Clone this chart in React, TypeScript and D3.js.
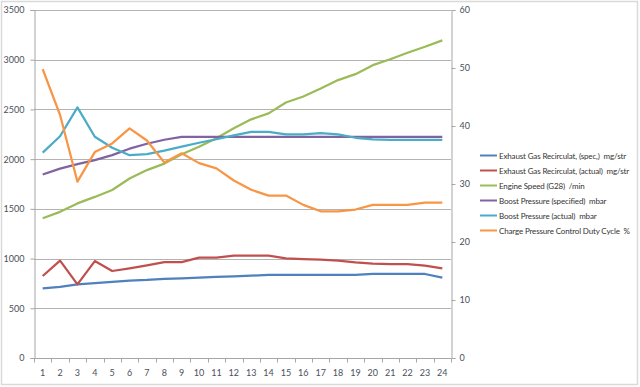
import { useRef, useEffect } from 'react';
import * as d3 from 'd3';

const categories = d3.range(1, 25).map(String);

const egrSpec = [700, 715, 740, 752, 765, 778, 785, 797, 802, 808, 815, 822, 828, 835, 835, 835, 835, 835, 835, 845, 845, 845, 845, 808];
const egrActual = [825, 979, 741, 975, 875, 902, 932, 965, 965, 1009, 1009, 1029, 1029, 1029, 1002, 995, 989, 979, 962, 949, 945, 945, 929, 902];
const engineSpeed = [1405, 1470, 1555, 1620, 1690, 1805, 1890, 1955, 2050, 2125, 2210, 2310, 2400, 2460, 2570, 2630, 2710, 2795, 2855, 2945, 3005, 3070, 3130, 3195];
const boostSpec = [1845, 1905, 1950, 1990, 2040, 2105, 2155, 2195, 2225, 2225, 2225, 2225, 2225, 2225, 2225, 2225, 2225, 2225, 2225, 2225, 2225, 2225, 2225, 2225];
const boostActual = [2065, 2230, 2520, 2225, 2115, 2040, 2050, 2085, 2125, 2165, 2200, 2240, 2275, 2275, 2250, 2250, 2262, 2250, 2215, 2200, 2195, 2195, 2195, 2195];
const dutyCycle = [49.8, 41.9, 30.4, 35.5, 37.0, 39.6, 37.5, 33.7, 35.3, 33.6, 32.7, 30.6, 29.0, 28.0, 28.0, 26.4, 25.3, 25.3, 25.6, 26.4, 26.4, 26.4, 26.8, 26.8];

const leftTicks = [0, 500, 1000, 1500, 2000, 2500, 3000, 3500];
const rightTicks = [0, 10, 20, 30, 40, 50, 60];

const seriesNames = [
  'Exhaust Gas Recirculat, (spec,)  mg/str',
  'Exhaust Gas Recirculat, (actual)  mg/str',
  'Engine Speed (G28)  /min',
  'Boost Pressure (specified)  mbar',
  'Boost Pressure (actual)  mbar',
  'Charge Pressure Control Duty Cycle  %',
];
const seriesColors = ['#4F81BD', '#C0504D', '#9BBB59', '#8064A2', '#4BACC6', '#F79646'];

const W = 640;
const H = 387;
const margin = { top: 10, right: 189, bottom: 29, left: 34 };

export default function App() {
  const svgRef = useRef<SVGSVGElement>(null);

  useEffect(() => {
    const svg = d3.select(svgRef.current);
    if (!svg.node()) return;
    svg.selectAll('*').remove();

    const x0 = margin.left;
    const x1 = W - margin.right;
    const y0 = H - margin.bottom;
    const y1 = margin.top;

    const xScale = d3.scaleBand().domain(categories).range([x0, x1]);
    const yLeft = d3.scaleLinear().domain([0, 3500]).range([y0, y1]);
    const yRight = d3.scaleLinear().domain([0, 60]).range([y0, y1]);

    svg.append('rect')
      .attr('x', 1.5).attr('y', 1.5)
      .attr('width', W - 4).attr('height', H - 4)
      .attr('fill', 'white')
      .attr('stroke', '#d9d9d9')
      .attr('stroke-width', 1.5);

    const font = 'Lato, "Open Sans", sans-serif';
    const fmt = d3.format('d');

    // grid
    svg.append('g')
      .selectAll('line')
      .data(leftTicks.filter(d => d > 0))
      .join('line')
      .attr('x1', x0).attr('x2', x1)
      .attr('y1', d => Math.round(yLeft(d)) + 0.5)
      .attr('y2', d => Math.round(yLeft(d)) + 0.5)
      .attr('stroke', '#b3b3b3')
      .attr('stroke-width', 1);

    // left axis
    const la = svg.append('g').attr('transform', `translate(${x0 + 0.5},0)`)
      .call(d3.axisLeft(yLeft).tickValues(leftTicks).tickFormat(fmt as any).tickSize(4).tickPadding(6));
    la.select('.domain').attr('stroke', '#a6a6a6');
    la.selectAll('line').attr('stroke', '#a6a6a6');
    la.selectAll('text').style('font-family', font).style('font-size', '9px').style('fill', '#4a4f5a');

    // right axis
    const ra = svg.append('g').attr('transform', `translate(${x1 + 0.5},0)`)
      .call(d3.axisRight(yRight).tickValues(rightTicks).tickFormat(fmt as any).tickSize(4).tickPadding(4));
    ra.select('.domain').attr('stroke', '#a6a6a6');
    ra.selectAll('line').attr('stroke', '#a6a6a6');
    ra.selectAll('text').style('font-family', font).style('font-size', '9px').style('fill', '#4a4f5a');

    // bottom axis, ticks between categories
    const xa = svg.append('g').attr('transform', `translate(0,${Math.round(y0) + 0.5})`);
    xa.append('line').attr('x1', x0).attr('x2', x1).attr('stroke', '#a6a6a6');
    xa.selectAll('line.tk')
      .data(d3.range(categories.length + 1))
      .join('line')
      .attr('class', 'tk')
      .attr('x1', i => Math.round(x0 + i * xScale.bandwidth()) + 0.5)
      .attr('x2', i => Math.round(x0 + i * xScale.bandwidth()) + 0.5)
      .attr('y1', 0).attr('y2', 4)
      .attr('stroke', '#a6a6a6');
    xa.selectAll('text')
      .data(categories)
      .join('text')
      .attr('x', d => (xScale(d) || 0) + xScale.bandwidth() / 2)
      .attr('y', 17)
      .attr('text-anchor', 'middle')
      .style('font-family', font).style('font-size', '9px').style('fill', '#4a4f5a')
      .text(d => d);

    const cx = (i: number) => (xScale(categories[i]) || 0) + xScale.bandwidth() / 2;
    const lineL = d3.line<number>().x((_, i) => cx(i)).y(d => yLeft(d));
    const lineR = d3.line<number>().x((_, i) => cx(i)).y(d => yRight(d));

    const leftSeries = [egrSpec, egrActual, engineSpeed, boostSpec, boostActual];
    leftSeries.forEach((s, k) => {
      svg.append('path')
        .datum(s)
        .attr('d', lineL)
        .attr('fill', 'none')
        .attr('stroke', seriesColors[k])
        .attr('stroke-width', 2.25)
        .attr('stroke-linejoin', 'round');
    });
    svg.append('path')
      .datum(dutyCycle)
      .attr('d', lineR)
      .attr('fill', 'none')
      .attr('stroke', seriesColors[5])
      .attr('stroke-width', 2.25)
      .attr('stroke-linejoin', 'round');

    // legend
    const lg = svg.append('g').attr('transform', 'translate(480,155)');
    seriesNames.forEach((name, i) => {
      const row = lg.append('g').attr('transform', `translate(0,${i * 15})`);
      row.append('line').attr('x1', 0).attr('x2', 17).attr('y1', 0.5).attr('y2', 0.5)
        .attr('stroke', seriesColors[i]).attr('stroke-width', 2);
      row.append('text').attr('x', 19).attr('y', 3.5)
        .style('font-family', font).style('font-size', '8px').style('fill', '#333')
        .style('letter-spacing', '-0.15px')
        .style('white-space', 'pre')
        .text(name);
    });
  }, []);

  return (
    <svg ref={svgRef} width={W} height={H} style={{ display: 'block', position: 'absolute', left: 0, top: 0 }} />
  );
}
